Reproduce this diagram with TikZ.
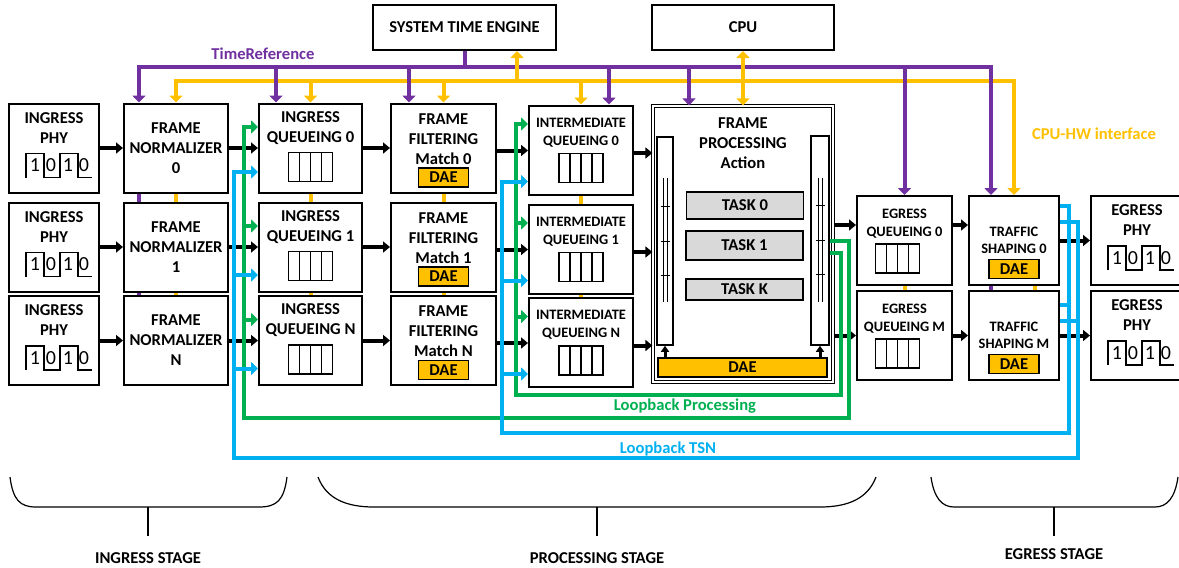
\documentclass[tikz,border=0pt]{standalone}
\usepackage{fontspec}
\setmainfont{Carlito}
\usepackage{tikz}
\usetikzlibrary{arrows.meta,positioning}
\definecolor{treference}{HTML}{7030A0}
\definecolor{cpuif}{HTML}{FFC000}
\definecolor{loopproc}{HTML}{00B050}
\definecolor{looptsn}{HTML}{00B0F0}
\definecolor{taskgray}{HTML}{D9D9D9}

\tikzset{
  pics/bits/.style={code={
    \draw[line width=0.6pt] (18,75) -- (18,51) -- (36,51) -- (36,75) -- (52,75) -- (52,51) -- (70,51) -- (70,75) -- (84,75);
    \foreach \d/\dx [count=\k] in {1/27,0/43,1/60,0/76}
      \node[inner sep=0pt, font=\fontsize{10}{12}\selectfont] (-d\k) at (\dx,63) {\d};
  }},
  pics/queue/.style={code={
    \draw[line width=0.6pt] (-22,0) rectangle (22,29);
    \foreach \q in {-11,0,11}
      \draw[line width=0.6pt] (\q,0) -- (\q,29);
  }}
}

\begin{document}
\begin{tikzpicture}[x=0.5pt,y=-0.5pt,
    box/.style={draw, line width=1pt, fill=white, inner sep=0pt},
    txt/.style={align=center, inner sep=0pt, font=\bfseries\fontsize{8.3}{10}\selectfont},
    small/.style={align=center, inner sep=0pt, font=\bfseries\fontsize{7.2}{8.8}\selectfont},
    dae/.style={draw, line width=0.8pt, fill=cpuif, inner sep=0pt, minimum width=25pt, minimum height=9.5pt, font=\bfseries\fontsize{8.3}{10}\selectfont},
    task/.style={draw, line width=0.8pt, fill=taskgray, inner sep=0pt, minimum width=58.5pt, font=\bfseries\fontsize{8.3}{10}\selectfont},
    data/.style={line width=2pt, -{Triangle[width=5.5pt,length=3.5pt]}},
    arr/.style={-{Triangle[width=6.5pt,length=3.5pt]}},
    arrs/.style={{Triangle[width=6.5pt,length=3.5pt]}-{Triangle[width=6.5pt,length=3.5pt]}},
    tref/.style={treference, line width=2pt},
    cif/.style={cpuif, line width=2pt},
    loopp/.style={loopproc, line width=2pt},
    loopt/.style={looptsn, line width=2pt},
    brace/.style={line width=0.6pt}]
    \useasboundingbox (0,0) rectangle (1179,568);
    \coordinate (tbus) at (0,67);
    \coordinate (cbus) at (0,81);

    % Top blocks
    \node[box, txt, minimum width=91.5pt, minimum height=22.5pt] (ste) at (464.5,27.5) {SYSTEM TIME ENGINE};
    \node[box, txt, minimum width=91pt, minimum height=22.5pt] (cpu) at (743,27.5) {CPU};

    % Ingress rows
    \foreach \i/\y in {0/148,1/247,N/340.5} {
        \node[box, minimum width=45pt, minimum height=44.5pt] (iphy\i) at (54,\y) {};
        \node[txt] (iphy\i-t) at ([yshift=10pt]iphy\i.center) {INGRESS\\PHY};
        \pic (iphy\i-w) at (iphy\i.north west) {bits};
        \node[box, txt, minimum width=52pt, minimum height=44.5pt] (fn\i) at (176,\y) {FRAME\\NORMALIZER\\\i};
        \node[box, minimum width=51.5pt, minimum height=44.5pt] (iq\i) at (310.5,\y) {};
        \node[txt] (iq\i-t) at ([yshift=10pt]iq\i.center) {INGRESS\\QUEUEING \i};
        \pic at ([yshift=-25pt]iq\i.north) {queue};
        \node[box, minimum width=52.5pt, minimum height=44.5pt] (ff\i) at (443.5,\y) {};
        \node[txt] (ff\i-t) at ([yshift=4.5pt]ff\i.center) {FRAME\\FILTERING\\Match \i};
        \node[dae] (ff\i-dae) at ([yshift=-37.5pt]ff\i.north) {DAE};
        \node[box, minimum width=52pt, minimum height=44.5pt] (int\i) at (581,\y+2) {};
        \node[small] (int\i-t) at ([yshift=8.75pt]int\i.center) {INTERMEDIATE\\QUEUEING \i};
        \pic at ([yshift=-24.5pt]int\i.north) {queue};
    }

    % Frame processing
    \node[box, double, double distance=1.2pt, line width=0.6pt, minimum width=90pt, minimum height=138pt] (fp) at (743,244) {};
    \node[txt] (fp-t) at ([yshift=50.5pt]fp.center) {FRAME\\PROCESSING\\Action};
    \node[box, line width=0.8pt, minimum width=8pt, minimum height=104pt] (lbar) at (665,241) {};
    \node[box, line width=0.8pt, minimum width=9pt, minimum height=104.5pt] (rbar) at (820,240.5) {};
    \foreach \b in {lbar,rbar}
        \draw[line width=0.4pt, shift={(\b.center)}] (-2,-63) -- (-2,61) (2,-63) -- (2,61)
            (-4.5,-35) -- (4.5,-35) (-4.5,0) -- (4.5,0) (-4.5,34) -- (4.5,34);
    \node[task, minimum height=13.5pt] (task0) at (745,205.5) {TASK 0};
    \node[task, minimum height=14.5pt] (task1) at (744.5,245.5) {TASK 1};
    \node[task, minimum height=10.5pt] (taskK) at (744.5,289.5) {TASK K};
    \node[dae, minimum width=84.5pt] (fp-dae) at (742.5,367.5) {DAE};
    \draw[line width=1.5pt, -{Triangle[width=4pt,length=3pt]}] (fp-dae.north -| lbar.south) -- (lbar.south);
    \draw[line width=1.5pt, -{Triangle[width=4pt,length=3pt]}] (fp-dae.north -| rbar.south) -- (rbar.south);

    % Egress rows
    \foreach \i/\y in {0/240.5,M/335.5} {
        \node[box, minimum width=47.5pt, minimum height=44.5pt] (eq\i) at (904.5,\y) {};
        \node[small] (eq\i-t) at ([yshift=8.5pt]eq\i.center) {EGRESS\\QUEUEING \i};
        \pic at ([xshift=-3.5pt,yshift=-24.5pt]eq\i.north) {queue};
        \node[box, small, minimum width=45pt, minimum height=44.5pt] (ts\i) at (1014,\y) {TRAFFIC\\SHAPING \i};
        \node[dae] (ts\i-dae) at ([yshift=-37pt]ts\i.north) {DAE};
        \node[box, minimum width=46pt, minimum height=44.5pt] (ephy\i) at (1137,\y) {};
        \node[txt] (ephy\i-t) at ([yshift=10pt]ephy\i.center) {EGRESS\\PHY};
        \pic (ephy\i-w) at (ephy\i.north west) {bits};
    }

    % Data path
    \foreach \i in {0,1,N} {
        \draw[data] (iphy\i.east) -- (fn\i.west);
        \draw[data] (fn\i.east) -- (iq\i.west);
        \draw[data] (iq\i.east) -- (ff\i.west);
        \draw[data] ([yshift=-1.25pt]ff\i.east) -- ([yshift=-1.25pt]ff\i.east -| int\i.west);
        \draw[data] ([yshift=-1.5pt]int\i.east) -- ([yshift=-1.5pt]int\i.east -| fp.west);
    }
    \draw[data] ([yshift=7.75pt]eq0.west -| fp.east) -- ([yshift=7.75pt]eq0.west);
    \draw[data] (eqM.west -| fp.east) -- (eqM.west);
    \draw[data] ([yshift=7.75pt]eq0.east) -- ([yshift=7.75pt]ts0.west);
    \draw[data] (eqM.east) -- (tsM.west);
    \draw[data] (ts0.east) -- (ephy0.west);
    \draw[data] (tsM.east) -- (ephyM.west);

    % CPU-HW interface
    \draw[cif, arrs] (fn0.north) |- (ts0.north |- cbus) -- (ts0.north);
    \foreach \n in {iq0,ff0,int0}
        \draw[cif, arr] (\n.north |- cbus) -- (\n.north);
    \foreach \a/\b in {fn0/fn1,fn1/fnN,iq0/iq1,iq1/iqN,ff0/ff1,ff1/ffN,int0/int1,int1/intN,eq0/eqM}
        \draw[cif] (\a.south) -- (\b.north);
    \draw[cif] ([xshift=10.5pt]ts0.south) -- ([xshift=10.5pt]tsM.north);

    % TimeReference
    \draw[tref] (ste.south) -- (ste.south |- tbus);
    \draw[tref, arrs] ([xshift=-18.5pt]fn0.north) |- ([xshift=-11.5pt]ts0.north |- tbus) -- ([xshift=-11.5pt]ts0.north);
    \foreach \n/\dx in {iq0/-17.25,ff0/-17.25,int0/14,fp/-27,eq0/0}
        \draw[tref, arr] ([xshift=\dx pt]\n.north |- tbus) -- ([xshift=\dx pt]\n.north);
    \foreach \a/\b in {fn0/fn1,fn1/fnN}
        \draw[tref] ([xshift=-18.5pt]\a.south) -- ([xshift=-18.5pt]\b.north);
    \draw[tref] ([xshift=-11.5pt]ts0.south) -- ([xshift=-11.5pt]tsM.north);
    \draw[cif, arrs] (cpu.south) -- (fp.north);
    \draw[cif, arr] ([xshift=26.25pt]ste.south |- cbus) -- ([xshift=26.25pt]ste.south);

    % Loopback Processing
    \draw[loopp, arr] ([yshift=-0.25pt]rbar.east) -- ++(19,0) -- ++(0,177) -| ([xshift=-7pt,yshift=10.5pt]iq0.west) -- ([yshift=10.5pt]iq0.west);
    \foreach \n in {iq1,iqN}
        \draw[loopp, arr] ([xshift=-7pt,yshift=10.5pt]\n.west) -- ([yshift=10.5pt]\n.west);
    \draw[loopp, arr] ([yshift=-6.25pt]rbar.east) -- ++(11,0) -- ++(0,142) -| ([xshift=-6pt,yshift=13pt]int0.west) -- ([yshift=13pt]int0.west);
    \foreach \n in {int1,intN}
        \draw[loopp, arr] ([xshift=-6pt,yshift=13pt]\n.west) -- ([yshift=13pt]\n.west);

    % Loopback TSN
    \draw[loopt, arr] ([yshift=17.25pt]ts0.east) -- ++(9,0) -- ++(0,227) -| ([xshift=-13pt,yshift=-15.75pt]int0.west) -- ([yshift=-15.75pt]int0.west);
    \draw[loopt] ([yshift=15.25pt]tsM.east) -- ++(9,0);
    \foreach \n in {int1,intN}
        \draw[loopt, arr] ([xshift=-13pt,yshift=-15.75pt]\n.west) -- ([yshift=-15.75pt]\n.west);
    \draw[loopt, arr] ([yshift=9.25pt]ts0.east) -- ++(18,0) -- ++(0,236) -| ([xshift=-12pt,yshift=-12pt]iq0.west) -- ([yshift=-12pt]iq0.west);
    \draw[loopt] ([yshift=7.25pt]tsM.east) -- ++(18,0);
    \foreach \n in {iq1,iqN}
        \draw[loopt, arr] ([xshift=-12pt,yshift=-14pt]\n.west) -- ([yshift=-14pt]\n.west);

    % Labels
    \node[txt, text=treference] (tref-l) at (263,54) {TimeReference};
    \node[txt, text=cpuif] (cif-l) at (1094,134) {CPU-HW interface};
    \node[txt, text=loopproc] (loopp-l) at (685,406) {Loopback Processing};
    \node[txt, text=looptsn] (loopt-l) at (668,449) {Loopback TSN};

    % Stages
    \draw[brace] (10,477) .. controls (13,500) and (20,507) .. (36,507) -- (259,507) .. controls (277,507) and (284,500) .. (287,477);
    \draw[brace] (148,507) -- (148,536);
    \draw[brace] (318,477) .. controls (326,498) and (345,507) .. (374,507) -- (820,507) .. controls (849,507) and (868,498) .. (876,477);
    \draw[brace] (597,507) -- (597,536);
    \draw[brace] (931,477) .. controls (934,498) and (942,507) .. (954,507) -- (1155,507) .. controls (1167,507) and (1175,498) .. (1178,477);
    \draw[brace] (1054,507) -- (1054,536);
    \node[txt] (ingress-l) at (148,558) {INGRESS STAGE};
    \node[txt] (proc-l) at (597,558) {PROCESSING STAGE};
    \node[txt] (egress-l) at (1054,554) {EGRESS STAGE};
\end{tikzpicture}
\end{document}
